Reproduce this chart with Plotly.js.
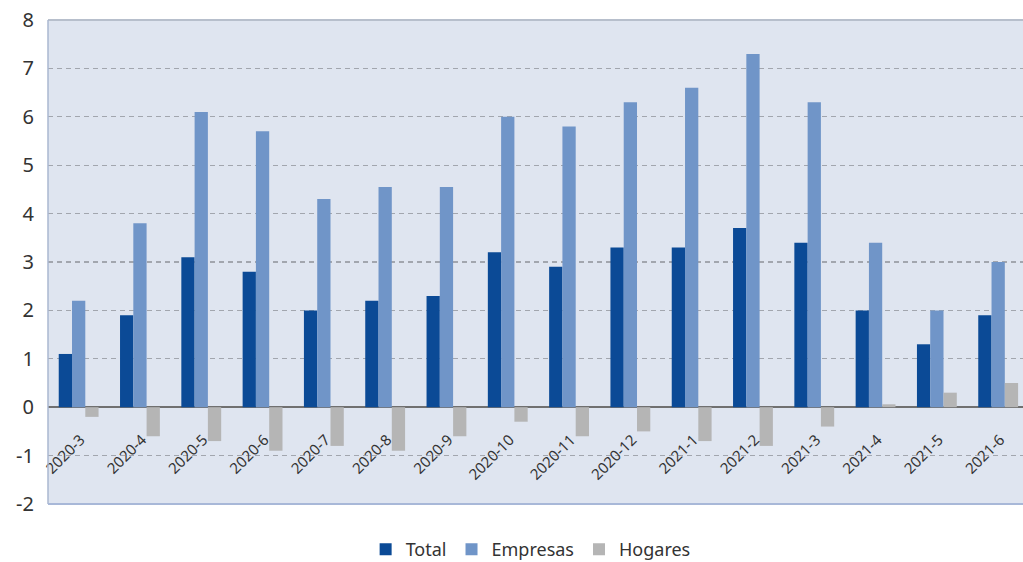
<!DOCTYPE html>
<html>
<head>
<meta charset="utf-8">
<script src="https://cdn.plot.ly/plotly-3.0.1.min.js"></script>
<style>html,body{margin:0;padding:0;background:#fff;overflow:hidden;}#chart{width:1023px;height:562px;}</style>
</head>
<body>
<div id="chart"></div>
<script>
const categories = ["2020-3","2020-4","2020-5","2020-6","2020-7","2020-8","2020-9","2020-10","2020-11","2020-12","2021-1","2021-2","2021-3","2021-4","2021-5","2021-6"];
const total    = [1.1, 1.9, 3.1, 2.8, 2.0, 2.2, 2.3, 3.2, 2.9, 3.3, 3.3, 3.7, 3.4, 2.0, 1.3, 1.9];
const empresas = [2.2, 3.8, 6.1, 5.7, 4.3, 4.55, 4.55, 6.0, 5.8, 6.3, 6.6, 7.3, 6.3, 3.4, 2.0, 3.0];
const hogares  = [-0.2, -0.6, -0.7, -0.9, -0.8, -0.9, -0.6, -0.3, -0.6, -0.5, -0.7, -0.8, -0.4, 0.06, 0.3, 0.5];
const yTicks = [-2, -1, 0, 1, 2, 3, 4, 5, 6, 7, 8];

const FONT = '"Noto Sans", "Open Sans", sans-serif';
const traces = [
  {type:'bar', name:'Total', x:categories, y:total, marker:{color:'#0b4a96'}},
  {type:'bar', name:'Empresas', x:categories, y:empresas, marker:{color:'#7095c8'}},
  {type:'bar', name:'Hogares', x:categories, y:hogares, marker:{color:'#b5b5b5'}}
];
const layout = {
  width:1023, height:562,
  margin:{l:48, r:0, t:20, b:58, autoexpand:false},
  paper_bgcolor:'#ffffff',
  plot_bgcolor:'#dfe5f0',
  barmode:'group', bargap:0.35, bargroupgap:0,
  font:{family:FONT, color:'#333333'},
  showlegend:true,
  legend:{orientation:'h', xref:'paper', x:0.495, xanchor:'center', yref:'container', y:0.022, yanchor:'middle',
          font:{size:18, color:'#333333'}, itemwidth:30, tracegroupgap:0, bgcolor:'rgba(0,0,0,0)'},
  xaxis:{type:'category', range:[-0.5, 15.405], anchor:'free', position:0.2, automargin:false,
         tickangle:-45, tickfont:{size:15, color:'#333333'}, showgrid:false, showline:false,
         ticks:'', ticklabelshift:2, ticklabelstandoff:20, fixedrange:true},
  yaxis:{range:[-2,8], tickvals:yTicks, ticktext:yTicks.map(String), tickfont:{size:20, color:'#333333'},
         automargin:false,
         showgrid:true, gridcolor:'#a2a6ae', griddash:'5px,4px', gridwidth:1.3,
         zeroline:true, zerolinecolor:'#707070', zerolinewidth:2,
         ticks:'outside', ticklen:9, tickcolor:'rgba(0,0,0,0)', showline:false, fixedrange:true},
  shapes:[
    {type:'line', xref:'paper', yref:'paper', x0:0, x1:1, y0:1, y1:1, line:{color:'#b7bfcc', width:2}},
    {type:'line', xref:'paper', yref:'paper', x0:0, x1:0, y0:0, y1:1, line:{color:'#aab7d0', width:1.5}},
    {type:'line', xref:'paper', yref:'paper', x0:0, x1:1, y0:0, y1:0, line:{color:'#a8b8d8', width:2}}
  ]
};
Plotly.newPlot('chart', traces, layout, {displayModeBar:false, staticPlot:true});
</script>
</body>
</html>
